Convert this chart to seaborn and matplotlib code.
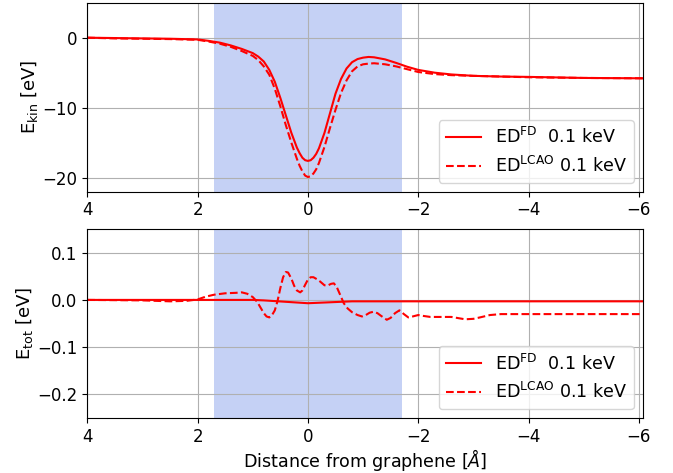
import numpy as np
import pandas as pd
import matplotlib
matplotlib.use("Agg")
import matplotlib.pyplot as plt
import seaborn as sns

# ---- data ----
x_kin = [4.0, 3.5, 3.0, 2.5, 2.0, 1.8, 1.6, 1.4, 1.2, 1.0, 0.9, 0.8, 0.7, 0.6, 0.5,
         0.4, 0.3, 0.2, 0.15, 0.1, 0.05, 0.0, -0.05, -0.1, -0.15, -0.2, -0.3, -0.4,
         -0.5, -0.6, -0.7, -0.8, -0.9, -1.0, -1.1, -1.2, -1.4, -1.6, -1.8, -2.0,
         -2.3, -2.6, -3.0, -3.5, -4.0, -5.0, -6.07]
ekin_fd = [0.0, -0.05, -0.1, -0.15, -0.25, -0.45, -0.7, -1.1, -1.6, -2.2, -2.7, -3.4,
           -4.6, -6.3, -8.6, -11.1, -13.6, -15.7, -16.5, -17.15, -17.5, -17.6, -17.5,
           -17.15, -16.6, -15.8, -13.6, -10.8, -8.0, -5.9, -4.4, -3.5, -3.05, -2.85,
           -2.75, -2.8, -3.1, -3.6, -4.15, -4.6, -5.0, -5.25, -5.45, -5.55, -5.6,
           -5.75, -5.8]
ekin_lcao = [0.0, -0.1, -0.15, -0.2, -0.3, -0.55, -0.85, -1.3, -1.9, -2.6, -3.2, -4.1,
             -5.3, -7.3, -9.8, -12.5, -15.0, -17.3, -18.3, -19.1, -19.7, -19.9, -19.8,
             -19.4, -18.8, -17.9, -15.6, -12.9, -10.3, -7.9, -6.1, -4.8, -4.1, -3.8,
             -3.7, -3.65, -3.8, -4.1, -4.5, -4.9, -5.2, -5.35, -5.45, -5.55, -5.65,
             -5.75, -5.8]

x_tot_fd = [4.0, 1.0, 0.8, 0.4, 0.0, -0.4, -0.8, -1.2, -6.07]
etot_fd = [0.0, 0.0, -0.001, -0.004, -0.007, -0.005, -0.003, -0.003, -0.003]

x_tot_lcao = [4.0, 3.0, 2.5, 2.2, 2.0, 1.85, 1.7, 1.5, 1.3, 1.2, 1.1, 1.0, 0.92, 0.85,
              0.8, 0.75, 0.70, 0.65, 0.6, 0.55, 0.5, 0.45, 0.4, 0.36, 0.3, 0.25, 0.2,
              0.14, 0.1, 0.05, 0.0, -0.05, -0.1, -0.16, -0.22, -0.3, -0.35, -0.42,
              -0.47, -0.52, -0.58, -0.65, -0.72, -0.80, -0.9, -0.98, -1.05, -1.12,
              -1.19, -1.26, -1.33, -1.43, -1.5, -1.58, -1.66, -1.74, -1.82, -1.9,
              -2.0, -2.1, -2.22, -2.6, -2.75, -2.85, -3.0, -3.12, -3.3, -3.5, -4.0,
              -5.0, -6.07]
etot_lcao = [0.0, -0.001, -0.003, -0.002, 0.001, 0.007, 0.011, 0.014, 0.015, 0.016,
             0.013, 0.006, -0.004, -0.018, -0.028, -0.035, -0.037, -0.032, -0.022,
             -0.002, 0.025, 0.048, 0.059, 0.058, 0.045, 0.030, 0.020, 0.016, 0.020,
             0.032, 0.043, 0.048, 0.048, 0.044, 0.039, 0.031, 0.030, 0.034, 0.035,
             0.028, 0.012, -0.007, -0.018, -0.026, -0.032, -0.035, -0.032, -0.027,
             -0.025, -0.028, -0.034, -0.042, -0.038, -0.028, -0.022, -0.030, -0.037,
             -0.035, -0.032, -0.034, -0.036, -0.036, -0.039, -0.041, -0.040, -0.037,
             -0.032, -0.030, -0.030, -0.030, -0.030]

label_fd = r"ED$^{\mathrm{FD}}$  0.1 keV"
label_lcao = r"ED$^{\mathrm{LCAO}}$ 0.1 keV"
x_ticks = [4, 2, 0, -2, -4, -6]

plt.rcParams["font.size"] = 12
plt.rcParams["font.family"] = ["DejaVu Sans"]

fig = plt.figure(figsize=(6.73, 4.73), dpi=100)
ax1 = fig.add_axes([0.1297, 0.5947, 0.8253, 0.3996])
ax2 = fig.add_axes([0.1297, 0.1160, 0.8253, 0.3999])

df_k_fd = pd.DataFrame({"x": x_kin, "y": ekin_fd})
df_k_lc = pd.DataFrame({"x": x_kin, "y": ekin_lcao})
df_t_fd = pd.DataFrame({"x": x_tot_fd, "y": etot_fd})
df_t_lc = pd.DataFrame({"x": x_tot_lcao, "y": etot_lcao})

for ax in (ax1, ax2):
    ax.axvspan(1.71, -1.71, color="royalblue", alpha=0.3, lw=0)

sns.lineplot(data=df_k_fd, x="x", y="y", ax=ax1, color="red", lw=1.5, label=label_fd, sort=False)
sns.lineplot(data=df_k_lc, x="x", y="y", ax=ax1, color="red", lw=1.5, ls="--", label=label_lcao, sort=False)
sns.lineplot(data=df_t_fd, x="x", y="y", ax=ax2, color="red", lw=1.5, label=label_fd, sort=False)
sns.lineplot(data=df_t_lc, x="x", y="y", ax=ax2, color="red", lw=1.5, ls="--", label=label_lcao, sort=False)

ax1.set_ylim(-22, 5)
ax2.set_ylim(-0.25, 0.15)
ax1.set_yticks([0, -10, -20])
ax2.set_yticks([0.1, 0.0, -0.1, -0.2])
for ax in (ax1, ax2):
    ax.set_xlim(4, -6.07)
    ax.set_xticks(x_ticks)
    ax.tick_params(labelsize=12)
    ax.grid(True)
    ax.legend(loc="lower right", fontsize=12.6, borderaxespad=0.5)
    ax.set_xlabel("")

ax1.set_ylabel(r"E$_{\mathrm{kin}}$ [eV]", fontsize=13, labelpad=2)
ax2.set_ylabel(r"E$_{\mathrm{tot}}$ [eV]", fontsize=13, labelpad=2)
ax2.set_xlabel(r"Distance from graphene [$Å$]", fontsize=12.6, labelpad=1)

fig.savefig("out.png", dpi=100)
